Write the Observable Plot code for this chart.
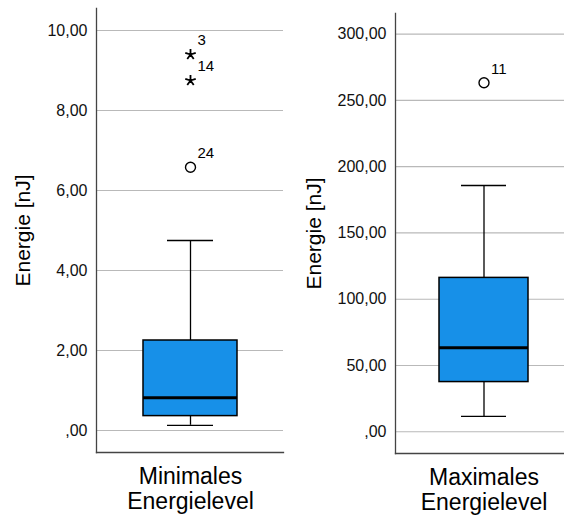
<!DOCTYPE html>
<html>
<head>
<meta charset="utf-8">
<script src="https://cdn.jsdelivr.net/npm/d3@7"></script>
<script src="https://cdn.jsdelivr.net/npm/@observablehq/plot@0.6"></script>
<style>
  html, body { margin: 0; padding: 0; background: #fff; overflow: hidden; width: 564px; height: 516px; }
  #wrap { position: relative; width: 564px; height: 516px; overflow: hidden; }
  .panel { position: absolute; top: 0; width: 290px; height: 516px; }
  svg { font-family: "Liberation Sans", Arial, sans-serif; overflow: visible; max-width: none !important; }
</style>
</head>
<body>
<div id="wrap">
  <div class="panel" id="p1" style="left:0px"></div>
  <div class="panel" id="p2" style="left:290px"></div>
</div>
<script>
// Data
const categories = ["Minimales\nEnergielevel", "Maximales\nEnergielevel"];
const q1 = [0.36, 37.5];
const median = [0.82, 63.4];
const q3 = [2.25, 116.1];
const whiskerLow = [0.13, 11.6];
const whiskerHigh = [4.75, 185.8];
const outlierPanel = [0, 0, 0, 1];
const outlierValue = [9.4, 8.75, 6.58, 263.3];
const outlierId = ["3", "14", "24", "11"];
const outlierKind = ["extreme", "extreme", "outlier", "outlier"];
const yTicks = [[0, 2, 4, 6, 8, 10], [0, 50, 100, 150, 200, 250, 300]];
const yDomains = [[-0.55, 10.55], [-16.4, 315.6]];
const yLabel = "Energie [nJ]";

const fmt = d => d === 0 ? ",00" : d.toFixed(2).replace(".", ",");

// SPSS-style five-armed asterisk for extreme values
const asterisk5 = {
  draw(context, size) {
    const r = Math.sqrt(size / Math.PI);
    for (let k = 0; k < 5; ++k) {
      const a = (2 * Math.PI * k) / 5;
      context.moveTo(0, 0);
      context.lineTo(r * Math.sin(a), -r * Math.cos(a));
    }
  }
};

function panel(i, opts) {
  const cat = categories[i];
  const box = [{cat, q1: q1[i], q3: q3[i], med: median[i], lo: whiskerLow[i], hi: whiskerHigh[i]}];
  const outs = outlierValue.map((v, j) => ({cat: categories[outlierPanel[j]], v, id: outlierId[j], kind: outlierKind[j]}))
    .filter(d => d.cat === cat);
  return Plot.plot({
    width: opts.width,
    height: 516,
    marginLeft: opts.marginLeft,
    marginRight: opts.marginRight,
    marginTop: opts.marginTop,
    marginBottom: opts.marginBottom,
    style: {fontFamily: '"Liberation Sans", Arial, sans-serif', color: "#000", background: "transparent"},
    x: {domain: [cat], padding: 0.33, axis: null},
    y: {domain: yDomains[i], axis: null},
    marks: [
      Plot.ruleY(yTicks[i], {stroke: "#b9b9b9", strokeWidth: 1.2}),
      Plot.axisY(yTicks[i], {tickSize: 0, tickPadding: 9, tickFormat: fmt, fontSize: 16, label: null, fill: "#111"}),
      Plot.axisY([], {tickSize: 0, label: yLabel, labelAnchor: "center", labelArrow: "none", labelOffset: opts.labelOffset, fontSize: 21, fill: "#000"}),
      Plot.axisX([cat], {tickSize: 0, tickPadding: 14, fontSize: 23, lineHeight: 1.08, label: null, fill: "#000"}),
      Plot.frame({anchor: "left", stroke: "#444", strokeWidth: 1.3}),
      Plot.frame({anchor: "bottom", stroke: "#444", strokeWidth: 1.3}),
      Plot.ruleX(box, {x: "cat", y1: "lo", y2: "q1", stroke: "#000", strokeWidth: 1.3}),
      Plot.ruleX(box, {x: "cat", y1: "q3", y2: "hi", stroke: "#000", strokeWidth: 1.3}),
      Plot.tickY(box, {x: "cat", y: "lo", stroke: "#000", strokeWidth: 1.3, insetLeft: opts.capInset, insetRight: opts.capInset}),
      Plot.tickY(box, {x: "cat", y: "hi", stroke: "#000", strokeWidth: 1.3, insetLeft: opts.capInset, insetRight: opts.capInset}),
      Plot.barY(box, {x: "cat", y1: "q1", y2: "q3", fill: "#1790e8", stroke: "#000", strokeWidth: 1.5}),
      Plot.tickY(box, {x: "cat", y: "med", stroke: "#000", strokeWidth: 3}),
      Plot.dot(outs.filter(d => d.kind === "outlier"), {x: "cat", y: "v", r: 5, stroke: "#000", strokeWidth: 1.4, fill: "#fff"}),
      Plot.dot(outs.filter(d => d.kind === "extreme"), {x: "cat", y: "v", r: 5.5, symbol: asterisk5, fill: "none", stroke: "#000", strokeWidth: 1.8}),
      Plot.text(outs, {x: "cat", y: "v", text: "id", textAnchor: "start", dx: 7, dy: -14, fontSize: 15, fill: "#000"})
    ]
  });
}

document.getElementById("p1").appendChild(panel(0, {width: 290, marginLeft: 96, marginRight: 7, marginTop: 8, marginBottom: 64, labelOffset: 81, capInset: 24}));
document.getElementById("p2").appendChild(panel(1, {width: 290, marginLeft: 105, marginRight: 7, marginTop: 13, marginBottom: 63, labelOffset: 89, capInset: 22}));
</script>
</body>
</html>
